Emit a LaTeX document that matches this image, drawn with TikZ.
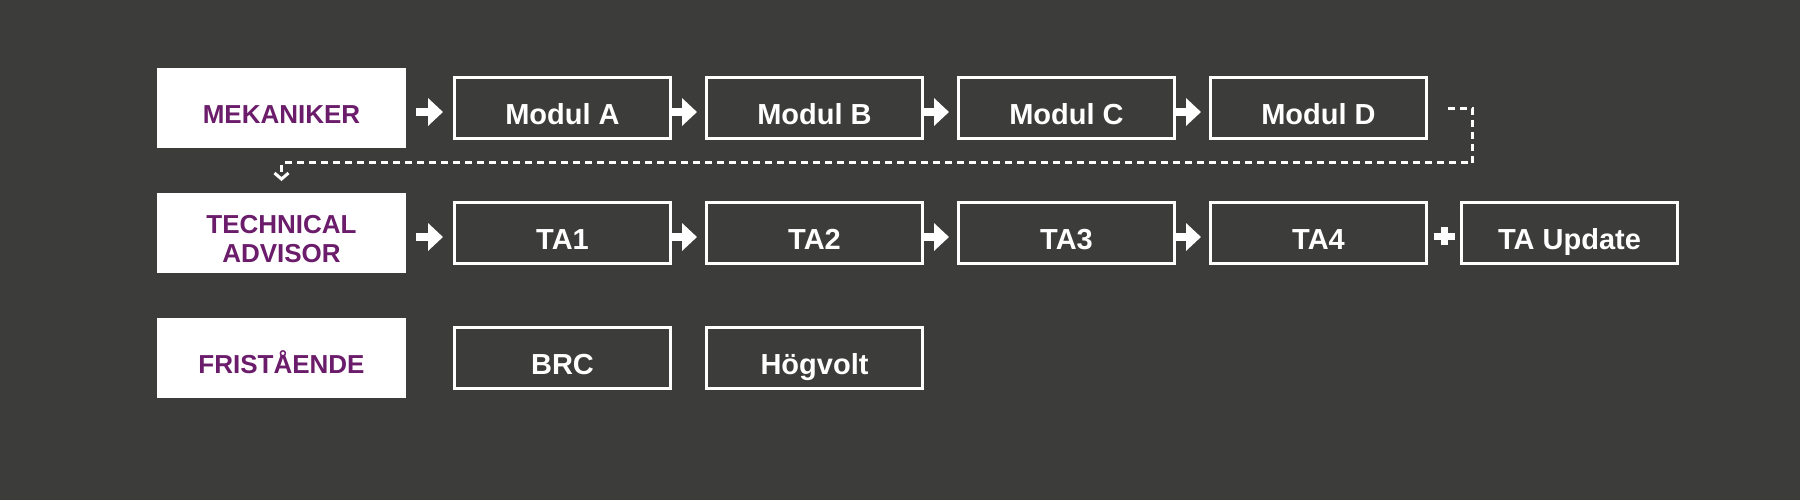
\documentclass[tikz,border=0pt]{standalone}
\usepackage{fontspec}
\setmainfont{Liberation Sans}
\usepackage{xcolor}
\definecolor{bgGray}{HTML}{3C3C3B}
\definecolor{labelPurple}{HTML}{6B1C6A}
\definecolor{lineWhite}{HTML}{FFFFFF}
\usepackage{tikz}
\usetikzlibrary{
    arrows.meta,
    positioning,
    calc
}
\tikzset{
    % Row headers - white block with purple caps
    rowlabel/.style={
        rectangle,
        fill=lineWhite,
        minimum width=124.5pt,
        minimum height=40pt,
        inner sep=0pt,
        outer sep=0pt,
        align=center,
        font=\fontsize{13pt}{14.5pt}\selectfont\bfseries,
        text=labelPurple,
        text height=15.3pt,
        text depth=0pt,
    },
    % Course boxes - white outline on the dark ground
    course/.style={
        rectangle,
        draw=lineWhite,
        line width=1.5pt,
        minimum width=108pt,
        minimum height=30.5pt,
        inner sep=0pt,
        font=\fontsize{14.5pt}{17pt}\selectfont\bfseries,
        text=lineWhite,
        text height=16.4pt,
        text depth=0pt,
    },
    % Block arrow between steps
    arrow/.style={
        -{Triangle[length=7.5pt, width=13.5pt]},
        line width=4pt,
        draw=lineWhite,
        fill=lineWhite,
    },
    % Dotted continuation to the next row
    arrow dashed/.style={
        -{Straight Barb[length=3pt, width=7pt]},
        line width=1.5pt,
        draw=lineWhite,
        dash pattern=on 3.5pt off 2.5pt,
    },
    % Plus sign between two courses
    plus bar/.style={
        line width=3.5pt,
        draw=lineWhite,
    },
}

\begin{document}
\begin{tikzpicture}[x=0.5pt, y=-0.5pt]
    \fill[bgGray] (0,0) rectangle (1800,500);
    \useasboundingbox (0,0) rectangle (1800,500);

    % row headers
    \node (mek) [rowlabel] at (281.5,108) {MEKANIKER};
    \node (tech) [rowlabel, below=22.5pt of mek, text height=29.8pt] {TECHNICAL\\ADVISOR};
    \node (fri) [rowlabel, below=22.5pt of tech] {FRISTÅENDE};

    % mekaniker row
    \node (modA) [course, right=23.5pt of mek] {Modul A};
    \node (modB) [course, right=16.5pt of modA] {Modul B};
    \node (modC) [course, right=16.5pt of modB] {Modul C};
    \node (modD) [course, right=16.5pt of modC] {Modul D};

    % technical advisor row
    \node (ta1) [course, right=23.5pt of tech] {TA1};
    \node (ta2) [course, right=16.5pt of ta1] {TA2};
    \node (ta3) [course, right=16.5pt of ta2] {TA3};
    \node (ta4) [course, right=16.5pt of ta3] {TA4};
    \node (tau) [course, right=16pt of ta4] {TA Update};

    % fristaende row
    \node (brc) [course, right=23.5pt of fri] {BRC};
    \node (hv) [course, right=16.5pt of brc] {Högvolt};

    \draw [arrow, shorten <=5pt, shorten >=5pt] ([yshift=-2pt]mek.east) -- ([yshift=-2pt]modA.west);
    \draw [arrow, shorten >=4pt] ([yshift=-2pt]modA.east) -- ([yshift=-2pt]modB.west);
    \draw [arrow, shorten >=4pt] ([yshift=-2pt]modB.east) -- ([yshift=-2pt]modC.west);
    \draw [arrow, shorten >=4pt] ([yshift=-2pt]modC.east) -- ([yshift=-2pt]modD.west);

    \draw [arrow, shorten <=5pt, shorten >=5pt] ([yshift=-2pt]tech.east) -- ([yshift=-2pt]ta1.west);
    \draw [arrow, shorten >=4pt] ([yshift=-2pt]ta1.east) -- ([yshift=-2pt]ta2.west);
    \draw [arrow, shorten >=4pt] ([yshift=-2pt]ta2.east) -- ([yshift=-2pt]ta3.west);
    \draw [arrow, shorten >=4pt] ([yshift=-2pt]ta3.east) -- ([yshift=-2pt]ta4.west);

    % plus between TA4 and the update
    \path (ta4.east) -- coordinate[pos=0.5] (plusmid) (tau.west);
    \draw [plus bar] ([xshift=-5.25pt, yshift=-1.5pt]plusmid) -- ([xshift=5.25pt, yshift=-1.5pt]plusmid);
    \draw [plus bar] ([yshift=3pt]plusmid) -- ([yshift=-6pt]plusmid);

    % from the last module down to the next row
    \draw [arrow dashed] ([xshift=10pt]modD.east) -| ([xshift=22.25pt, yshift=-27.25pt]modD.east) -| ([yshift=6pt]tech.north);
\end{tikzpicture}
\end{document}
